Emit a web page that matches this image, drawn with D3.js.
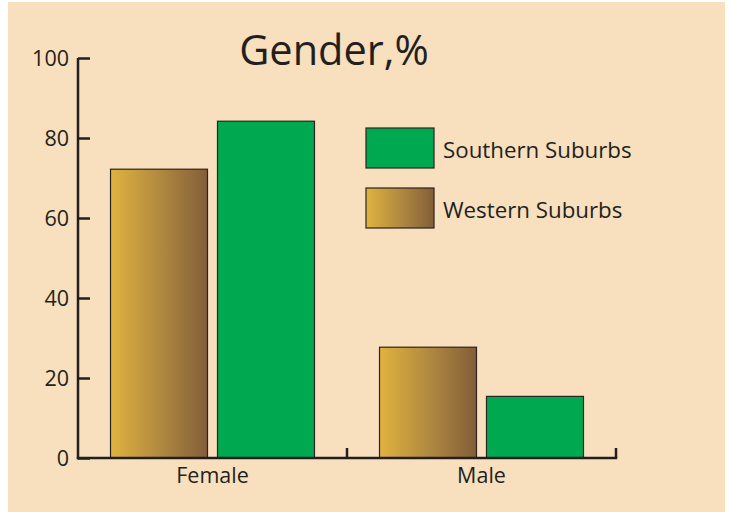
<!DOCTYPE html>
<html><head><meta charset="utf-8">
<script src="https://cdn.jsdelivr.net/npm/d3@7"></script>
<style>body{margin:0;background:#fff;}svg{display:block;}</style>
</head><body>
<script>
const categories = ["Female", "Male"];
const seriesNames = ["Western Suburbs", "Southern Suburbs"];
const western = [72.2, 27.7];
const southern = [84.2, 15.4];
const yTicks = [0, 20, 40, 60, 80, 100];
const legendOrder = ["Southern Suburbs", "Western Suburbs"];

const W = 730, H = 512;
const font = "'Open Sans', sans-serif";
const svg = d3.select("body").append("svg").attr("width", W).attr("height", H);

const defs = svg.append("defs");
const grad = defs.append("linearGradient").attr("id", "gold").attr("x1", "0").attr("x2", "1").attr("y1", "0").attr("y2", "0");
grad.append("stop").attr("offset", "0").attr("stop-color", "#e0b33f");
grad.append("stop").attr("offset", "0.5").attr("stop-color", "#b18a40");
grad.append("stop").attr("offset", "1").attr("stop-color", "#835e38");

const fills = {"Western Suburbs": "url(#gold)", "Southern Suburbs": "#00a94f"};

svg.append("rect").attr("x", 8).attr("y", 2).attr("width", 717).attr("height", 510).attr("fill", "#f8dfbd");

const y = d3.scaleLinear().domain([0, 100]).range([458, 58]);
const x0 = d3.scaleBand().domain(categories).range([78, 616]).paddingInner(0).paddingOuter(0);
const x1 = d3.scaleBand().domain(seriesNames).range([0, x0.bandwidth()]).paddingInner(0.0935).paddingOuter(0.304);

const data = categories.map((c, i) => ({cat: c, vals: [
  {s: "Western Suburbs", v: western[i]},
  {s: "Southern Suburbs", v: southern[i]}
]}));

const g = svg.append("g");
g.selectAll("g.cat").data(data).join("g").attr("class", "cat")
  .attr("transform", d => `translate(${x0(d.cat)},0)`)
  .selectAll("rect").data(d => d.vals).join("rect")
  .attr("x", d => x1(d.s)).attr("width", x1.bandwidth())
  .attr("y", d => y(d.v)).attr("height", d => y(0) - y(d.v))
  .attr("fill", d => fills[d.s]).attr("stroke", "#2a2420").attr("stroke-width", 1.2);

// Y axis
const yAxis = d3.axisRight(y).tickValues(yTicks).tickSize(12).tickFormat("");
const ya = svg.append("g").attr("transform", "translate(78,0)").call(yAxis);
ya.select(".domain").remove();
ya.selectAll(".tick line").attr("stroke", "#231f20").attr("stroke-width", 2.5);
svg.append("line").attr("x1", 78).attr("x2", 78).attr("y1", 58).attr("y2", 459.2).attr("stroke", "#231f20").attr("stroke-width", 2.5);
svg.append("g").selectAll("text").data(yTicks).join("text")
  .attr("x", 69).attr("y", d => y(d) + 8).attr("text-anchor", "end")
  .attr("font-family", font).attr("font-size", 21.5).attr("fill", "#231f20").text(d => d);

// X axis
svg.append("line").attr("x1", 76.8).attr("x2", 617.2).attr("y1", 458).attr("y2", 458).attr("stroke", "#231f20").attr("stroke-width", 2.5);
const xb = [x0("Male"), x0.range()[1]];
svg.append("g").selectAll("line").data(xb).join("line")
  .attr("x1", d => d).attr("x2", d => d).attr("y1", 458).attr("y2", 448)
  .attr("stroke", "#231f20").attr("stroke-width", 2.5);
svg.append("g").selectAll("text").data(categories).join("text")
  .attr("x", d => x0(d) + x0.bandwidth() / 2).attr("y", 483).attr("text-anchor", "middle")
  .attr("font-family", font).attr("font-size", 21.5).attr("fill", "#231f20").text(d => d);

// Title
svg.append("text").attr("x", 334).attr("y", 65).attr("text-anchor", "middle")
  .attr("font-family", font).attr("font-size", 41.5).attr("fill", "#231f20").text("Gender,%");

// Legend
const lg = svg.append("g").selectAll("g").data(legendOrder).join("g")
  .attr("transform", (d, i) => `translate(366,${128 + i * 60})`);
lg.append("rect").attr("width", 68).attr("height", 40).attr("fill", d => fills[d])
  .attr("stroke", "#2a2420").attr("stroke-width", 1.2);
lg.append("text").attr("x", 77).attr("y", 30).attr("font-family", font).attr("font-size", 22.3)
  .attr("fill", "#231f20").text(d => d);
</script>
</body></html>
